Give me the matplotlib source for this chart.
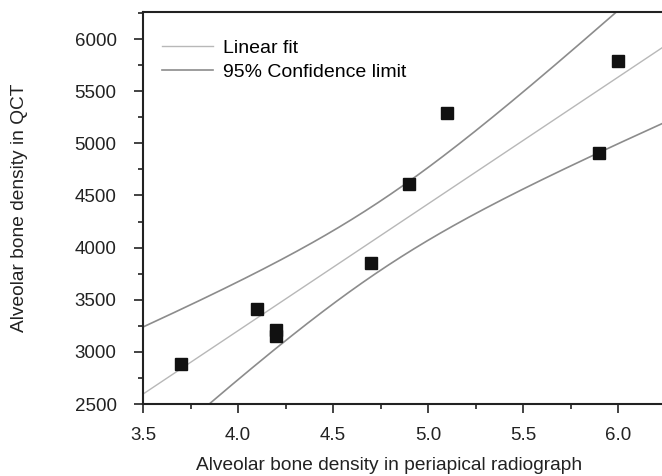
import matplotlib
matplotlib.use("Agg")
import matplotlib.pyplot as plt
import numpy as np
from matplotlib.ticker import MultipleLocator

# Values
radiograph = [3.7, 4.1, 4.2, 4.2, 4.7, 4.9, 5.1, 5.9, 6.0]
qct = [2883, 3411, 3215, 3150, 3852, 4609, 5290, 4906, 5789]

x_ticks = [3.5, 4.0, 4.5, 5.0, 5.5, 6.0]
y_ticks = [2500, 3000, 3500, 4000, 4500, 5000, 5500, 6000]
t_975_df7 = 2.365

plt.rcParams["font.family"] = ["Liberation Sans", "DejaVu Sans"]

x = np.array(radiograph)
y = np.array(qct)
n = len(x)
slope, intercept = np.polyfit(x, y, 1)
resid = y - (slope * x + intercept)
s = np.sqrt(np.sum(resid ** 2) / (n - 2))
sxx = np.sum((x - x.mean()) ** 2)

xlim = (3.5, 6.23)
xs = np.linspace(xlim[0], xlim[1], 200)
fit = slope * xs + intercept
half = t_975_df7 * s * np.sqrt(1 / n + (xs - x.mean()) ** 2 / sxx)

fig = plt.figure(figsize=(6.62, 4.76), dpi=100)
ax = fig.add_axes([0.216, 0.151, 0.784, 0.824])

ax.plot(xs, fit, color="#b8b8b8", lw=1.0, label="Linear fit")
ax.plot(xs, fit + half, color="#8c8c8c", lw=1.2, label="95% Confidence limit")
ax.plot(xs, fit - half, color="#8c8c8c", lw=1.2)
ax.plot(x, y, "s", color="#111111", markersize=8.5, zorder=3)

ax.set_xlim(*xlim)
ax.set_ylim(2500, 6260)
ax.set_xticks(x_ticks)
ax.set_xticklabels([f"{v:.1f}" for v in x_ticks])
ax.set_yticks(y_ticks)
ax.xaxis.set_minor_locator(MultipleLocator(0.25))
ax.yaxis.set_minor_locator(MultipleLocator(250))
ax.tick_params(which="major", length=6.5, width=1.2, labelsize=13.5, colors="#222222")
ax.tick_params(which="minor", length=3.6, width=1.2, colors="#222222")
ax.tick_params(axis="x", which="major", pad=10)
ax.tick_params(axis="y", which="major", pad=12.5)

for side in ("left", "bottom", "top"):
    ax.spines[side].set_linewidth(1.5)
    ax.spines[side].set_color("#222222")
ax.spines["right"].set_visible(False)

ax.set_xlabel("Alveolar bone density in periapical radiograph", fontsize=13.8, color="#222222")
ax.set_ylabel("Alveolar bone density in QCT", fontsize=13.8, color="#222222")
ax.xaxis.set_label_coords(0.474, -0.134)
ax.yaxis.set_label_coords(-0.222, 0.5)

ax.legend(loc="upper left", bbox_to_anchor=(0, 0.98), frameon=False, fontsize=14,
          handlelength=2.6, handletextpad=0.5, labelspacing=0.35, borderaxespad=0.6)

fig.savefig("out.png", dpi=100)
